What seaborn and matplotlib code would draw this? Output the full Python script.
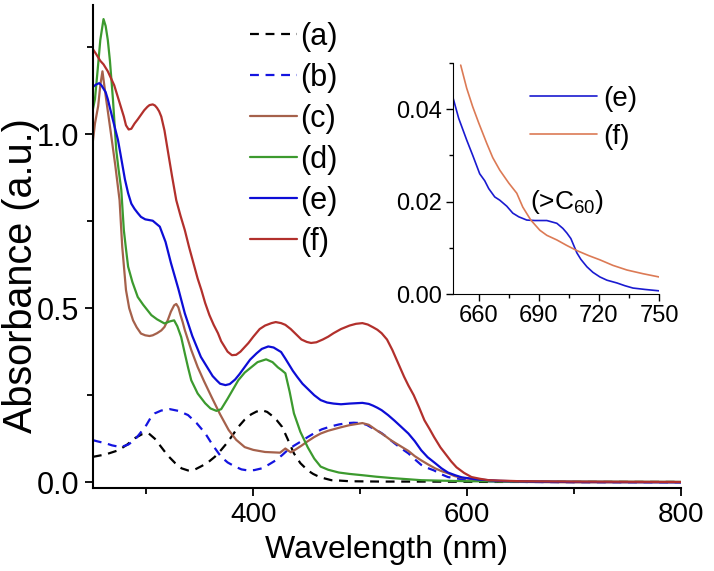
import matplotlib
matplotlib.use("Agg")
import matplotlib.pyplot as plt
from matplotlib.ticker import MultipleLocator
import seaborn as sns

# UV-vis spectra, values (wavelength nm, absorbance)
wl_a = [250, 262, 274, 282, 290, 296, 302, 308, 314, 320, 327, 333, 339, 345,
        352, 358, 364, 370, 376, 381, 386, 392, 398, 403, 408, 413, 418, 422,
        427, 432, 438, 444, 451, 456, 462, 468, 473, 480, 490, 520, 560, 620,
        700, 800]
abs_a = [0.073, 0.080, 0.092, 0.108, 0.128, 0.138, 0.141, 0.125, 0.101, 0.077,
         0.055, 0.040, 0.034, 0.036, 0.047, 0.058, 0.073, 0.093, 0.115, 0.137,
         0.159, 0.180, 0.195, 0.203, 0.207, 0.202, 0.190, 0.178, 0.159, 0.125,
         0.083, 0.055, 0.034, 0.024, 0.015, 0.010, 0.006, 0.005, 0.003, 0.002,
         0.002, 0.001, 0.001, 0.001]

wl_b = [250, 255, 262, 268, 276, 283, 289, 294, 300, 304, 308, 314, 322, 330,
        339, 347, 355, 362, 370, 376, 383, 389, 395, 401, 408, 414, 421, 427,
        432, 438, 445, 451, 457, 464, 472, 480, 488, 494, 500, 506, 510, 515,
        520, 526, 532, 538, 545, 551, 557, 563, 569, 575, 582, 590, 600, 620,
        650, 700, 800]
abs_b = [0.121, 0.117, 0.112, 0.106, 0.101, 0.108, 0.121, 0.140, 0.164, 0.185,
         0.198, 0.206, 0.210, 0.205, 0.193, 0.170, 0.141, 0.107, 0.073, 0.057,
         0.045, 0.037, 0.034, 0.035, 0.040, 0.050, 0.063, 0.078, 0.092, 0.105,
         0.118, 0.130, 0.141, 0.152, 0.160, 0.166, 0.170, 0.171, 0.170, 0.165,
         0.158, 0.150, 0.141, 0.127, 0.112, 0.098, 0.083, 0.066, 0.050, 0.041,
         0.034, 0.024, 0.015, 0.011, 0.007, 0.003, 0.001, 0.0, 0.0]

wl_c = [250, 252, 255, 257, 259, 262, 267, 271, 275, 277.5, 281, 284, 287.6,
        291, 295, 299, 303, 306, 310, 314, 317, 320, 323, 326, 328, 330, 332,
        334, 336, 342, 348, 354, 361, 369, 377, 384, 392, 400, 411, 418, 425,
        430, 435, 440, 445, 450, 457, 463, 470, 476, 482, 490, 502, 508, 515,
        522, 529, 537, 545, 551, 557, 563, 570, 576, 582, 588, 595, 607, 630,
        660, 700, 800]
abs_c = [0.978, 1.03, 1.08, 1.14, 1.18, 1.11, 1.00, 0.91, 0.81, 0.676, 0.552,
         0.50, 0.465, 0.445, 0.427, 0.422, 0.420, 0.422, 0.428, 0.436, 0.446,
         0.465, 0.490, 0.508, 0.512, 0.502, 0.480, 0.460, 0.437, 0.380, 0.331,
         0.290, 0.245, 0.195, 0.150, 0.122, 0.101, 0.093, 0.087, 0.086, 0.085,
         0.097, 0.086, 0.095, 0.105, 0.116, 0.130, 0.140, 0.148, 0.153, 0.158,
         0.164, 0.170, 0.165, 0.150, 0.136, 0.120, 0.105, 0.090, 0.075, 0.063,
         0.052, 0.040, 0.032, 0.026, 0.018, 0.013, 0.008, 0.003, 0.001, 0.0,
         0.0]

wl_d = [250, 252, 254.7, 257, 260, 262, 264, 266, 268.8, 271.9, 274, 276.6,
        279, 281, 283, 287, 292, 297, 304.7, 310, 317, 322, 326, 329, 332.6,
        336, 339, 342, 348, 355, 360, 365.6, 370, 376, 386, 392, 398, 404, 412,
        418, 423, 426.5, 430, 434, 438, 444, 451, 457, 463, 470, 480, 490, 503,
        515, 530, 557, 600, 650, 800]
abs_d = [1.07, 1.10, 1.19, 1.27, 1.33, 1.31, 1.27, 1.21, 1.10, 0.954, 0.90,
         0.84, 0.724, 0.67, 0.619, 0.575, 0.532, 0.510, 0.480, 0.468, 0.456,
         0.462, 0.465, 0.448, 0.417, 0.370, 0.330, 0.293, 0.255, 0.227, 0.212,
         0.205, 0.210, 0.240, 0.293, 0.315, 0.330, 0.345, 0.353, 0.345, 0.330,
         0.322, 0.313, 0.260, 0.198, 0.145, 0.100, 0.068, 0.045, 0.036, 0.028,
         0.024, 0.020, 0.016, 0.012, 0.006, 0.003, 0.002, 0.001]

wl_e = [250, 253, 256, 258, 260, 262, 264, 268, 273.5, 276, 280, 283, 286, 289,
        292, 295, 299, 306, 312.6, 318, 323, 330, 336, 343, 345, 351, 357, 362,
        366, 369, 374, 378, 383, 387, 392, 397, 403, 408, 414, 419, 426, 430,
        433, 437, 441, 446, 452, 457, 463, 469, 475, 482, 490, 496, 502, 508,
        512, 516, 520, 526, 532, 538, 545, 551, 557, 563, 570, 576, 582, 589,
        595, 610, 630, 660, 700, 800]
abs_e = [1.135, 1.142, 1.146, 1.14, 1.13, 1.12, 1.10, 1.05, 0.983, 0.94, 0.87,
         0.83, 0.80, 0.785, 0.773, 0.762, 0.755, 0.751, 0.734, 0.690, 0.630,
         0.555, 0.485, 0.420, 0.405, 0.360, 0.330, 0.305, 0.292, 0.283, 0.279,
         0.282, 0.295, 0.310, 0.331, 0.352, 0.370, 0.383, 0.390, 0.387, 0.374,
         0.355, 0.340, 0.320, 0.303, 0.283, 0.265, 0.250, 0.236, 0.229, 0.226,
         0.224, 0.226, 0.227, 0.228, 0.225, 0.220, 0.214, 0.207, 0.193, 0.177,
         0.160, 0.140, 0.118, 0.092, 0.072, 0.055, 0.040, 0.028, 0.020, 0.014,
         0.008, 0.004, 0.002, 0.001, 0.0]

wl_f = [250, 253, 257, 260, 264, 267, 270, 273, 276, 279, 281, 283.5, 286,
        289, 292, 295, 298, 301, 303, 306, 308, 310, 312, 314, 317, 320, 324,
        328, 332, 336, 340, 344, 348, 351.5, 355, 359, 363, 367, 370, 373, 376,
        380, 384, 388, 391, 395.5, 400, 406, 411, 417, 421, 426, 430, 435, 440,
        445, 450, 454, 459, 465, 470, 475, 482, 490, 496, 502, 507, 512, 516,
        520, 525, 530, 535, 541, 545, 550, 555, 560, 565, 569, 575, 580, 585,
        590, 597, 604, 612, 620, 650, 700, 800]
abs_f = [1.244, 1.23, 1.21, 1.20, 1.18, 1.16, 1.14, 1.11, 1.08, 1.05, 1.025,
         1.013, 1.015, 1.03, 1.042, 1.055, 1.068, 1.078, 1.083, 1.085, 1.082,
         1.075, 1.065, 1.05, 1.01, 0.954, 0.88, 0.81, 0.765, 0.724, 0.675,
         0.63, 0.585, 0.552, 0.515, 0.48, 0.452, 0.428, 0.405, 0.39, 0.375,
         0.365, 0.366, 0.375, 0.385, 0.40, 0.418, 0.44, 0.45, 0.457, 0.46,
         0.457, 0.452, 0.44, 0.425, 0.41, 0.403, 0.40, 0.402, 0.41, 0.418,
         0.428, 0.44, 0.45, 0.455, 0.457, 0.453, 0.445, 0.438, 0.428, 0.41,
         0.38, 0.345, 0.303, 0.278, 0.25, 0.215, 0.178, 0.152, 0.13, 0.10,
         0.08, 0.06, 0.043, 0.027, 0.015, 0.01, 0.006, 0.003, 0.002, 0.001]

# inset, 650-750 nm
wl_in_e = [647, 650, 654, 657, 660.5, 663, 665, 668, 670.5, 674, 677, 680,
           684, 688, 694, 699, 702, 704, 706, 709, 711, 714, 717, 720.5, 724,
           729, 733, 737, 743, 750]
abs_in_e = [0.0427, 0.038, 0.0333, 0.030, 0.026, 0.0245, 0.0228, 0.021,
            0.0203, 0.019, 0.0175, 0.0167, 0.016, 0.0159, 0.0159, 0.0153,
            0.0142, 0.0132, 0.012, 0.0089, 0.0075, 0.0059, 0.0047, 0.0037,
            0.003, 0.0024, 0.0018, 0.0013, 0.001, 0.0007]
wl_in_f = [651, 654, 657, 660, 664, 667, 670.5, 675, 679, 682, 686, 690.5,
           694, 699, 704, 709, 715, 720.5, 727, 734, 742, 750]
abs_in_f = [0.0495, 0.0445, 0.0405, 0.037, 0.0326, 0.0295, 0.0268, 0.024,
            0.0218, 0.0188, 0.016, 0.0138, 0.0127, 0.0117, 0.0105, 0.0094,
            0.0083, 0.0074, 0.0062, 0.0052, 0.0044, 0.0037]

labels = ["(a)", "(b)", "(c)", "(d)", "(e)", "(f)"]
colors = ["black", "#1414e0", "#a5614b", "#3c9a2e", "#0d0dd6", "#b2302c"]

sns.set_style("ticks")
plt.rcParams["font.family"] = ["Liberation Sans", "DejaVu Sans"]
plt.rcParams["mathtext.fontset"] = "custom"
plt.rcParams["mathtext.rm"] = "Liberation Sans"
for key in ["text.color", "axes.labelcolor", "xtick.color", "ytick.color",
            "axes.edgecolor"]:
    plt.rcParams[key] = "black"

fig = plt.figure(figsize=(7.14, 5.71), dpi=100)
ax = fig.add_axes([0.130, 0.145, 0.824, 0.846])

series = [(wl_a, abs_a), (wl_b, abs_b), (wl_c, abs_c),
          (wl_d, abs_d), (wl_e, abs_e), (wl_f, abs_f)]
for (wl, ab), lab, col in zip(series, labels, colors):
    dashed = lab in ("(a)", "(b)")
    sns.lineplot(x=wl, y=ab, ax=ax, color=col, label=lab, lw=1.6,
                 linestyle="--" if dashed else "-", sort=False)
for line in ax.lines[:2]:
    line.set_dashes((4, 3))

ax.set_xlim(250, 800)
ax.set_ylim(-0.017, 1.37)
ax.set_xticks([400, 600, 800])
ax.xaxis.set_minor_locator(MultipleLocator(100))
ax.yaxis.set_major_locator(MultipleLocator(0.5))
ax.yaxis.set_minor_locator(MultipleLocator(0.25))
ax.tick_params(which="major", length=6, width=1.3, labelsize=20, pad=4)
ax.tick_params(axis="y", labelsize=22)
ax.tick_params(which="minor", length=4, width=1.3)
for s in ["left", "bottom"]:
    ax.spines[s].set_linewidth(1.5)
sns.despine(ax=ax)
ax.set_xlabel("Wavelength (nm)", fontsize=23, labelpad=5)
ax.set_ylabel("Absorbance (a.u.)", fontsize=28.5)
ax.yaxis.set_label_coords(-0.09, 0.44)

ax.legend(loc="upper left", bbox_to_anchor=(0.267, 0.965), frameon=False,
          fontsize=22, handlelength=1.55, handletextpad=0.1, labelspacing=0.36,
          borderpad=0, borderaxespad=0)

# inset
ins = fig.add_axes([0.634, 0.485, 0.289, 0.405])
sns.lineplot(x=wl_in_e, y=abs_in_e, ax=ins, color="#1a1ad0", lw=1.2, label="(e)")
sns.lineplot(x=wl_in_f, y=abs_in_f, ax=ins, color="#dc7a55", lw=1.2, label="(f)")
ins.set_xlim(647, 750)
ins.set_ylim(0, 0.05)
ins.set_xticks([660, 690, 720, 750])
ins.xaxis.set_minor_locator(MultipleLocator(15))
ins.set_yticks([0.0, 0.02, 0.04])
ins.yaxis.set_minor_locator(MultipleLocator(0.01))
ins.set_yticklabels(["0.00", "0.02", "0.04"])
ins.tick_params(which="major", length=5, width=1.0, labelsize=17, pad=3)
ins.tick_params(which="minor", length=3, width=1.0)
sns.despine(ax=ins)
ins.set_xlabel("")
ins.set_ylabel("")
ins.patch.set_alpha(0)
ins.legend(loc="upper left", bbox_to_anchor=(0.374, 0.90), frameon=False,
           fontsize=20, handlelength=2.4, handletextpad=0.25, labelspacing=0.42,
           borderpad=0, borderaxespad=0)
ins.text(0.374, 0.40, "(>C$_{60}$)", transform=ins.transAxes, fontsize=19,
         va="center", ha="left")

fig.savefig("out.png", dpi=100)
